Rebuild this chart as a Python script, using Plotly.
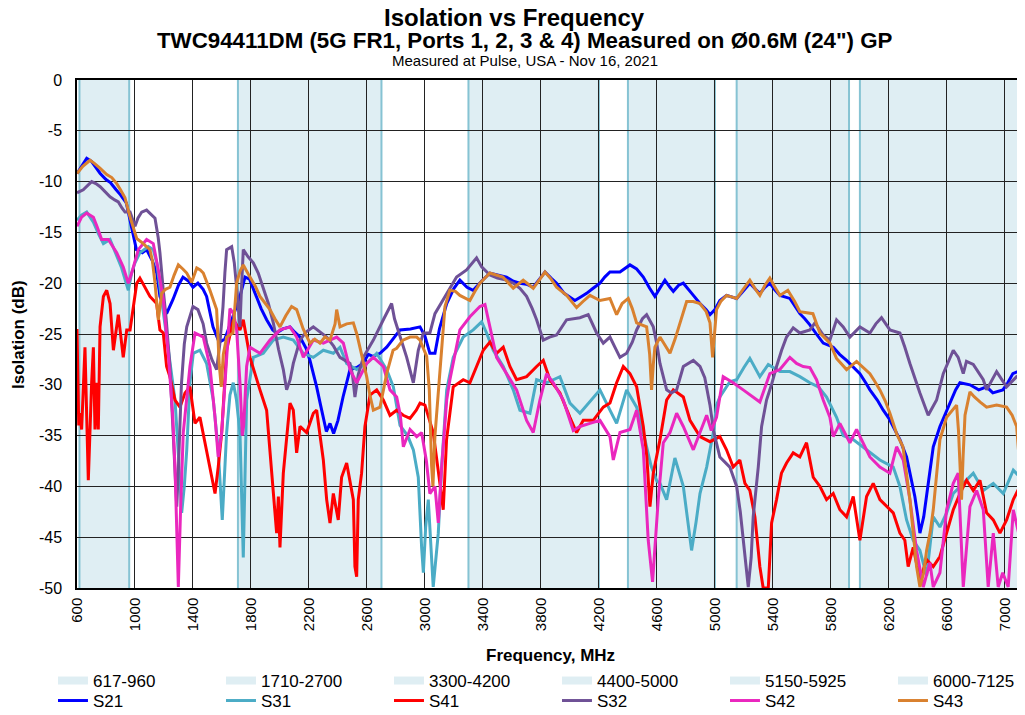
import plotly.graph_objects as go

# frequency bands (MHz)
band_labels = ["617-960", "1710-2700", "3300-4200", "4400-5000", "5150-5925", "6000-7125"]
band_lo = [617, 1710, 3300, 4400, 5150, 6000]
band_hi = [960, 2700, 4200, 5000, 5925, 7125]

x_ticks = [600, 1000, 1400, 1800, 2200, 2600, 3000, 3400, 3800, 4200, 4600, 5000, 5400, 5800, 6200, 6600, 7000]
y_ticks = [0, -5, -10, -15, -20, -25, -30, -35, -40, -45, -50]

# S21
s21_f = [600, 640, 667, 700, 730, 760, 800, 830, 870, 900, 940, 977, 1010, 1050, 1080, 1120, 1150, 1172, 1218, 1262,
         1300, 1331, 1370, 1400, 1434, 1470, 1494, 1538, 1580, 1620, 1660, 1700, 1724, 1759, 1790, 1839, 1870, 1908,
         1950, 1977, 2020, 2069, 2100, 2138, 2180, 2207, 2230, 2253, 2280, 2299, 2320, 2345, 2370, 2400, 2435, 2483,
         2530, 2572, 2610, 2641, 2690, 2736, 2780, 2828, 2900, 2966, 3000, 3034, 3069, 3100, 3150, 3200, 3241, 3290,
         3333, 3390, 3448, 3500, 3563, 3610, 3655, 3700, 3747, 3790, 3828, 3870, 3908, 3960, 4034, 4080, 4115, 4160,
         4207, 4240, 4276, 4345, 4380, 4414, 4460, 4506, 4550, 4586, 4620, 4655, 4690, 4713, 4750, 4782, 4840, 4897,
         4940, 4966, 5000, 5034, 5080, 5150, 5200, 5241, 5280, 5310, 5345, 5379, 5410, 5448, 5517, 5550, 5586, 5620,
         5655, 5700, 5747, 5816, 5860, 5908, 5950, 6000, 6040, 6069, 6120, 6161, 6200, 6228, 6276, 6322, 6350, 6379,
         6400, 6414, 6440, 6460, 6485, 6506, 6552, 6590, 6621, 6660, 6690, 6759, 6820, 6874, 6917, 6986, 7020, 7055,
         7090, 7125]
s21_db = [-9.2, -8.3, -7.7, -8.0, -8.6, -9.2, -9.8, -10.1, -10.8, -11.3, -12.1, -14.4, -16.7, -17.0, -16.7, -17.8,
          -19.0, -21.3, -23.0, -21.6, -20.2, -19.4, -19.8, -20.4, -20.0, -20.6, -21.3, -24.3, -25.8, -25.5, -24.0,
          -22.3, -21.3, -19.4, -19.6, -21.3, -22.5, -23.6, -24.6, -24.9, -24.5, -24.3, -24.8, -25.3, -26.4, -27.6,
          -28.8, -30.2, -32.0, -33.2, -34.6, -33.8, -34.8, -33.5, -31.2, -28.5, -28.3, -27.9, -27.0, -27.2, -26.9,
          -26.3, -25.5, -24.6, -24.5, -24.3, -25.2, -26.9, -26.9, -24.5, -22.0, -20.5, -19.7, -20.4, -20.7, -19.8,
          -19.0, -19.2, -19.4, -19.8, -20.0, -20.1, -20.4, -19.6, -18.9, -19.5, -20.0, -21.0, -21.7, -21.3, -21.0,
          -20.5, -20.0, -19.4, -18.9, -18.9, -18.5, -18.2, -18.6, -19.4, -20.5, -21.3, -20.5, -19.7, -20.4, -20.8,
          -20.2, -20.0, -21.0, -22.0, -22.6, -23.1, -22.6, -21.7, -21.2, -21.5, -20.7, -20.0, -20.6, -21.0, -20.4,
          -20.0, -20.6, -21.2, -21.5, -22.2, -23.0, -23.5, -24.1, -25.0, -25.9, -26.3, -27.0, -27.6, -28.2, -28.9,
          -29.8, -30.5, -31.5, -32.5, -33.3, -34.1, -35.4, -37.1, -39.0, -41.0, -43.0, -44.6, -43.0, -41.0, -38.5,
          -36.1, -34.1, -32.8, -31.8, -30.5, -29.8, -30.0, -30.5, -30.2, -30.8, -30.5, -29.8, -28.9, -28.7, -28.3]

# S31
s31_f = [600, 630, 667, 713, 750, 782, 828, 874, 908, 954, 977, 1000, 1034, 1092, 1126, 1150, 1172, 1200, 1240, 1276,
         1300, 1322, 1340, 1357, 1379, 1402, 1448, 1494, 1540, 1574, 1602, 1632, 1655, 1678, 1700, 1724, 1747, 1760,
         1770, 1816, 1885, 1954, 2023, 2092, 2161, 2230, 2299, 2368, 2414, 2460, 2529, 2598, 2667, 2736, 2782, 2828,
         2880, 2920, 2954, 2977, 2989, 3005, 3023, 3057, 3075, 3092, 3115, 3150, 3195, 3264, 3333, 3391, 3425, 3471,
         3540, 3609, 3655, 3724, 3770, 3839, 3931, 4000, 4069, 4161, 4207, 4276, 4322, 4391, 4460, 4506, 4560, 4600,
         4621, 4667, 4724, 4782, 4810, 4839, 4870, 4897, 4943, 4989, 5011, 5034, 5103, 5150, 5200, 5241, 5310, 5368,
         5448, 5517, 5586, 5655, 5713, 5770, 5839, 5885, 5954, 6046, 6138, 6230, 6276, 6322, 6368, 6414, 6460, 6506,
         6552, 6598, 6644, 6713, 6782, 6851, 6920, 6989, 7058, 7125]
s31_db = [-13.8, -13.3, -13.0, -14.0, -15.2, -16.1, -15.7, -17.4, -18.5, -20.7, -19.0, -18.0, -17.0, -16.4, -16.7,
          -18.0, -20.4, -23.5, -27.5, -31.5, -37.0, -42.6, -40.0, -36.4, -29.8, -26.9, -26.6, -27.9, -31.5, -36.4,
          -43.3, -34.7, -31.0, -29.8, -31.5, -34.7, -47.0, -38.0, -31.5, -27.3, -26.9, -25.6, -25.3, -25.6, -26.9,
          -27.3, -26.6, -26.9, -26.3, -27.9, -28.5, -27.9, -26.9, -28.5, -30.2, -34.0, -35.0, -36.4, -39.1, -46.0,
          -48.5, -44.0, -41.3, -49.9, -47.0, -44.6, -38.1, -30.5, -27.3, -25.3, -24.6, -23.8, -24.9, -26.6, -28.2,
          -30.5, -32.5, -32.8, -29.5, -29.8, -29.2, -31.8, -32.8, -31.2, -30.5, -32.5, -33.8, -30.5, -32.2, -34.7,
          -38.0, -39.5, -39.7, -41.3, -37.2, -40.0, -43.0, -46.3, -43.5, -40.7, -38.1, -34.7, -32.0, -31.2, -29.7,
          -29.5, -28.3, -27.4, -29.2, -28.0, -28.7, -28.7, -29.2, -29.8, -30.2, -31.2, -33.2, -35.0, -35.4, -36.4,
          -37.4, -38.1, -40.0, -43.3, -45.3, -46.3, -48.8, -43.0, -44.0, -42.6, -40.7, -39.7, -38.7, -40.4, -39.7,
          -40.7, -38.4, -39.4]

# S41
s41_f = [600, 612, 621, 632, 655, 678, 701, 713, 724, 736, 747, 759, 782, 805, 828, 851, 885, 919, 943, 966, 989, 1012,
         1034, 1069, 1103, 1149, 1172, 1195, 1218, 1241, 1276, 1310, 1345, 1379, 1414, 1448, 1483, 1517, 1552, 1574,
         1598, 1632, 1678, 1724, 1747, 1793, 1839, 1862, 1908, 1954, 1977, 1989, 2000, 2023, 2046, 2069, 2092, 2115,
         2138, 2184, 2230, 2253, 2299, 2322, 2345, 2368, 2402, 2425, 2460, 2506, 2517, 2529, 2540, 2563, 2586, 2621,
         2667, 2713, 2759, 2805, 2850, 2897, 2940, 2966, 3000, 3034, 3057, 3103, 3126, 3149, 3172, 3195, 3264, 3310,
         3356, 3402, 3448, 3494, 3540, 3586, 3632, 3701, 3770, 3816, 3862, 3931, 4000, 4046, 4092, 4161, 4230, 4276,
         4322, 4368, 4414, 4460, 4506, 4530, 4552, 4575, 4621, 4667, 4713, 4782, 4828, 4897, 4966, 5034, 5080, 5126,
         5172, 5207, 5241, 5276, 5310, 5333, 5368, 5391, 5425, 5459, 5494, 5540, 5586, 5632, 5678, 5724, 5770, 5816,
         5862, 5908, 5954, 6000, 6046, 6092, 6138, 6184, 6230, 6276, 6310, 6333, 6368, 6414, 6460, 6506, 6552, 6598,
         6644, 6690, 6736, 6782, 6828, 6874, 6920, 6966, 7012, 7058, 7103, 7125]
s41_db = [-24.5, -34.0, -32.8, -34.4, -26.3, -39.4, -29.8, -26.3, -34.4, -29.8, -34.4, -24.3, -21.3, -20.7, -22.0,
          -26.6, -23.1, -27.3, -24.6, -24.6, -22.3, -20.0, -19.5, -20.4, -21.3, -22.0, -24.6, -24.9, -28.2, -29.2,
          -31.5, -32.2, -30.8, -30.2, -33.8, -33.2, -35.7, -38.1, -40.7, -38.1, -34.7, -26.6, -23.6, -24.6, -23.6,
          -27.3, -29.5, -30.5, -32.5, -40.7, -44.6, -41.0, -46.0, -38.7, -35.1, -31.8, -32.5, -36.7, -34.1, -34.7,
          -32.8, -32.5, -37.4, -41.3, -43.6, -40.7, -43.3, -39.1, -37.7, -41.3, -47.9, -48.9, -41.3, -38.7, -34.1,
          -31.0, -30.5, -31.5, -33.0, -32.5, -33.0, -33.3, -32.5, -31.8, -32.0, -33.5, -34.7, -39.7, -42.3, -35.4,
          -32.8, -30.2, -29.5, -29.8, -28.2, -26.6, -25.8, -26.9, -26.3, -28.2, -29.5, -29.2, -28.2, -27.6, -29.5,
          -30.8, -33.2, -34.7, -33.5, -33.5, -32.2, -31.8, -29.8, -28.2, -28.9, -30.2, -34.1, -37.0, -42.0, -38.7,
          -35.4, -31.5, -30.5, -31.2, -33.5, -35.1, -35.6, -35.1, -36.4, -38.1, -37.4, -39.7, -40.4, -43.0, -47.9,
          -50.0, -50.0, -43.6, -41.3, -38.7, -37.7, -36.7, -37.1, -35.7, -39.1, -40.0, -41.3, -40.7, -42.3, -43.0,
          -41.0, -45.3, -41.0, -39.7, -41.3, -42.0, -42.6, -44.6, -45.3, -47.9, -46.0, -49.2, -47.2, -47.9, -46.9,
          -44.6, -42.3, -40.7, -39.4, -40.4, -39.4, -42.6, -43.3, -44.6, -43.3, -41.3, -40.0, -40.0]

# S32
s32_f = [600, 643, 701, 730, 760, 800, 828, 860, 885, 910, 931, 966, 985, 1000, 1020, 1046, 1080, 1110, 1138, 1160,
         1172, 1195, 1215, 1240, 1262, 1280, 1288, 1300, 1320, 1340, 1357, 1400, 1434, 1470, 1494, 1530, 1563, 1585,
         1607, 1620, 1632, 1667, 1685, 1701, 1715, 1724, 1733, 1747, 1780, 1816, 1850, 1885, 1920, 1954, 1990, 2023,
         2046, 2070, 2092, 2138, 2180, 2230, 2280, 2322, 2370, 2414, 2483, 2500, 2517, 2540, 2575, 2644, 2713, 2770,
         2790, 2828, 2874, 2920, 2954, 2989, 3034, 3069, 3126, 3170, 3218, 3287, 3330, 3356, 3391, 3448, 3500, 3563,
         3610, 3655, 3701, 3740, 3770, 3816, 3860, 3908, 3977, 4030, 4069, 4126, 4184, 4230, 4276, 4310, 4345, 4391,
         4430, 4460, 4500, 4529, 4575, 4600, 4621, 4667, 4700, 4736, 4782, 4851, 4897, 4930, 4966, 4990, 5034, 5103,
         5150, 5175, 5195, 5230, 5250, 5264, 5299, 5322, 5356, 5390, 5425, 5460, 5494, 5540, 5586, 5655, 5690, 5747,
         5793, 5839, 5885, 5931, 6000, 6069, 6110, 6149, 6207, 6276, 6310, 6345, 6414, 6471, 6529, 6575, 6644, 6678,
         6713, 6735, 6782, 6851, 6874, 6943, 7012, 7081, 7125]
s32_db = [-11.1, -10.8, -10.0, -10.2, -10.5, -11.1, -11.5, -11.8, -12.0, -12.6, -13.0, -13.0, -13.8, -14.4, -13.6,
          -13.0, -12.8, -13.2, -13.6, -15.5, -17.0, -20.7, -23.5, -28.0, -34.0, -39.5, -42.0, -38.0, -30.0, -26.0,
          -24.3, -22.3, -22.6, -24.0, -25.9, -27.5, -28.5, -26.0, -22.3, -19.0, -16.7, -16.4, -18.0, -20.4, -23.0,
          -24.3, -21.0, -16.7, -17.4, -18.0, -19.0, -20.4, -22.0, -23.9, -26.5, -28.5, -30.5, -29.5, -27.9, -25.6,
          -24.8, -24.3, -24.8, -25.3, -26.2, -27.3, -27.9, -29.0, -31.2, -29.0, -27.3, -25.6, -23.6, -22.0, -23.5,
          -25.3, -27.3, -29.8, -26.6, -24.9, -24.9, -23.0, -21.6, -20.5, -19.4, -18.7, -18.0, -17.5, -18.4, -19.2,
          -19.5, -19.7, -20.0, -20.5, -21.3, -22.5, -23.6, -25.6, -25.3, -25.1, -23.6, -23.5, -23.4, -23.1, -24.9,
          -25.9, -25.3, -26.3, -27.3, -26.9, -25.8, -24.6, -23.5, -23.1, -24.3, -26.0, -27.9, -30.5, -30.8, -30.5,
          -28.2, -27.6, -28.2, -29.3, -32.0, -34.5, -37.1, -38.1, -40.0, -42.5, -45.3, -49.9, -47.0, -43.0, -38.1,
          -34.1, -31.5, -30.0, -28.2, -26.6, -25.3, -24.4, -24.9, -24.6, -23.9, -25.1, -25.6, -23.6, -24.3, -25.3,
          -24.3, -24.9, -24.0, -23.4, -24.6, -24.9, -26.3, -27.9, -30.8, -33.0, -31.5, -28.9, -26.6, -27.3, -28.9,
          -27.7, -28.0, -29.5, -30.5, -28.7, -30.2, -29.2, -29.5]

# S42
s42_f = [600, 632, 667, 713, 740, 770, 816, 874, 919, 954, 977, 1023, 1080, 1126, 1161, 1195, 1230, 1260, 1276, 1290,
         1299, 1315, 1333, 1379, 1414, 1471, 1517, 1552, 1574, 1598, 1632, 1655, 1680, 1701, 1725, 1740, 1750, 1770,
         1793, 1862, 1931, 2000, 2069, 2115, 2161, 2230, 2299, 2391, 2437, 2483, 2529, 2598, 2644, 2713, 2759, 2805,
         2830, 2851, 2897, 2943, 2977, 3010, 3034, 3069, 3092, 3115, 3150, 3172, 3241, 3310, 3379, 3414, 3448, 3494,
         3563, 3632, 3701, 3747, 3793, 3839, 3885, 3954, 4023, 4069, 4138, 4207, 4276, 4299, 4345, 4414, 4460, 4506,
         4540, 4570, 4609, 4644, 4690, 4736, 4782, 4851, 4897, 4943, 4975, 5011, 5057, 5126, 5195, 5264, 5310, 5379,
         5448, 5517, 5563, 5609, 5655, 5701, 5747, 5793, 5816, 5862, 5931, 5977, 6023, 6069, 6138, 6207, 6253, 6299,
         6345, 6391, 6437, 6483, 6506, 6552, 6598, 6644, 6678, 6713, 6759, 6805, 6851, 6885, 6920, 6954, 6985, 7023,
         7058, 7092, 7125]
s42_db = [-14.4, -13.5, -13.1, -13.5, -14.5, -15.7, -15.7, -17.0, -18.4, -20.0, -19.0, -16.7, -15.7, -16.1, -18.7,
          -21.6, -27.0, -33.0, -38.1, -45.0, -49.9, -42.0, -34.7, -28.2, -24.9, -25.3, -28.2, -33.2, -37.1, -34.7,
          -26.9, -22.5, -23.0, -24.6, -30.0, -35.0, -34.0, -28.2, -26.3, -26.9, -25.6, -24.6, -24.3, -25.3, -27.3,
          -25.6, -25.9, -25.3, -25.9, -28.5, -29.8, -27.9, -27.3, -28.2, -30.5, -31.2, -33.0, -36.1, -34.4, -35.1,
          -34.7, -37.5, -40.7, -40.0, -43.6, -38.1, -31.5, -29.5, -24.6, -23.3, -22.3, -22.1, -24.3, -27.3, -28.9,
          -30.5, -33.5, -34.7, -31.5, -28.9, -29.8, -31.5, -34.5, -34.1, -33.8, -33.5, -35.1, -37.4, -34.7, -34.4,
          -32.5, -36.4, -45.3, -49.4, -41.3, -35.7, -34.7, -32.8, -34.1, -36.4, -34.7, -33.0, -34.5, -33.2, -29.2,
          -29.8, -30.5, -31.2, -31.7, -28.9, -28.5, -27.3, -27.9, -28.2, -28.3, -29.5, -31.5, -33.2, -35.1, -33.8,
          -35.7, -34.4, -35.7, -37.1, -38.1, -38.7, -36.1, -37.4, -41.3, -46.3, -49.9, -47.5, -49.9, -48.5, -42.3,
          -39.7, -38.7, -49.9, -42.0, -40.4, -42.3, -49.9, -44.6, -49.9, -48.5, -49.9, -42.3, -44.6, -46.5]

# S43
s43_f = [600, 640, 690, 720, 760, 805, 840, 874, 900, 931, 966, 990, 1012, 1057, 1103, 1120, 1138, 1161, 1184, 1210,
         1241, 1270, 1299, 1330, 1357, 1391, 1426, 1450, 1471, 1517, 1563, 1581, 1595, 1609, 1632, 1676, 1701, 1725,
         1747, 1793, 1830, 1862, 1900, 1931, 1965, 2000, 2040, 2080, 2115, 2160, 2207, 2240, 2276, 2310, 2345, 2380,
         2391, 2414, 2460, 2506, 2530, 2552, 2598, 2620, 2644, 2690, 2736, 2780, 2805, 2848, 2897, 2943, 2966, 3012,
         3030, 3046, 3055, 3069, 3085, 3103, 3138, 3172, 3210, 3241, 3310, 3345, 3379, 3448, 3490, 3538, 3609, 3678,
         3747, 3790, 3828, 3870, 3908, 3977, 4046, 4090, 4138, 4207, 4276, 4322, 4360, 4402, 4430, 4460, 4529, 4550,
         4563, 4575, 4586, 4621, 4650, 4690, 4725, 4759, 4805, 4850, 4897, 4940, 4966, 4984, 4995, 5011, 5040, 5080,
         5150, 5200, 5241, 5280, 5310, 5345, 5379, 5410, 5448, 5503, 5550, 5586, 5630, 5676, 5724, 5793, 5839, 5875,
         5908, 5977, 6020, 6069, 6100, 6138, 6175, 6207, 6253, 6297, 6345, 6370, 6391, 6414, 6440, 6460, 6485, 6506,
         6530, 6552, 6598, 6640, 6667, 6680, 6690, 6701, 6712, 6725, 6759, 6790, 6830, 6874, 6943, 7012, 7050, 7081,
         7103, 7125]
s43_db = [-9.2, -8.5, -7.9, -8.2, -8.7, -9.3, -9.6, -10.2, -10.8, -11.6, -13.5, -14.6, -15.6, -16.1, -16.7, -17.8,
          -20.0, -23.6, -21.0, -20.6, -20.4, -19.2, -18.2, -18.6, -19.0, -19.9, -18.5, -18.7, -19.0, -20.7, -22.6,
          -28.0, -30.2, -27.0, -25.3, -24.9, -20.0, -18.8, -18.2, -19.4, -20.3, -21.3, -22.0, -22.6, -23.5, -24.3,
          -23.2, -22.3, -22.6, -24.5, -25.9, -25.5, -25.9, -25.3, -25.6, -24.0, -22.6, -24.3, -24.0, -23.9, -25.0,
          -26.3, -29.2, -31.0, -32.5, -32.2, -28.9, -26.6, -26.4, -25.6, -25.3, -25.3, -25.6, -27.2, -30.5, -38.0,
          -40.0, -35.0, -32.0, -28.9, -22.3, -20.7, -20.8, -21.2, -21.7, -20.8, -20.0, -19.0, -19.2, -19.4, -20.5,
          -19.7, -20.5, -19.6, -18.9, -19.6, -20.4, -21.2, -22.4, -21.8, -21.2, -21.7, -21.5, -23.1, -22.0, -21.5,
          -22.5, -23.9, -24.3, -27.0, -30.5, -28.0, -26.3, -25.3, -26.0, -26.9, -25.5, -23.9, -21.8, -21.8, -22.0,
          -22.8, -23.9, -27.3, -25.0, -22.6, -21.8, -21.2, -21.5, -20.5, -19.7, -20.6, -21.2, -20.2, -19.5, -20.3,
          -21.2, -20.7, -21.8, -22.8, -22.9, -23.0, -24.9, -25.9, -27.4, -28.0, -28.5, -27.7, -28.3, -28.9, -29.6,
          -30.5, -31.6, -32.8, -34.8, -36.1, -41.3, -45.0, -47.9, -49.9, -48.5, -46.3, -44.5, -42.3, -38.8, -35.4,
          -33.2, -32.5, -32.0, -34.5, -38.1, -41.3, -37.0, -33.0, -30.7, -31.2, -31.7, -32.2, -32.0, -32.2, -33.0,
          -34.1, -38.1, -43.0]

series = [
    ("S21", s21_f, s21_db, "#0000FF"),
    ("S31", s31_f, s31_db, "#4BACC6"),
    ("S41", s41_f, s41_db, "#FF0000"),
    ("S32", s32_f, s32_db, "#6F5196"),
    ("S42", s42_f, s42_db, "#EA27BE"),
    ("S43", s43_f, s43_db, "#D9812F"),
]

FONT = "Liberation Sans, Arial, sans-serif"
band_fill = "#DFEEF3"
band_edge = "#86C3D3"

fig = go.Figure()

# legend-only entries for the bands
for label in band_labels:
    fig.add_trace(go.Scatter(
        x=[None], y=[None], mode="lines", name=label,
        line=dict(color=band_fill, width=8), legend="legend"
    ))

for name, f, db, color in series:
    fig.add_trace(go.Scatter(
        x=f, y=db, mode="lines", name=name,
        line=dict(color=color, width=3), legend="legend2"
    ))

# shaded bands
for lo, hi in zip(band_lo, band_hi):
    fig.add_shape(type="rect", xref="x", yref="paper", x0=lo, x1=hi, y0=0, y1=1,
                  fillcolor=band_fill, line_width=0, layer="below")
    for edge in (lo, hi):
        fig.add_shape(type="line", xref="x", yref="paper", x0=edge, x1=edge, y0=0, y1=1,
                      line=dict(color=band_edge, width=2), layer="below")

# titles (page body adds an 8px offset, figure sized to fit the window)
fig.add_annotation(text="<b>Isolation vs Frequency</b>", xref="paper", yref="paper",
                   x=0.463, y=1.124, xanchor="center", yanchor="middle", showarrow=False,
                   font=dict(size=24, color="black"))
fig.add_annotation(text="<b>TWC94411DM (5G FR1, Ports 1, 2, 3 & 4) Measured on Ø0.6M (24\") GP</b>",
                   xref="paper", yref="paper", x=0.4736, y=1.078, xanchor="center", yanchor="middle",
                   showarrow=False, font=dict(size=22.3, color="black"))
fig.add_annotation(text="Measured at Pulse, USA - Nov 16, 2021", xref="paper", yref="paper",
                   x=0.4736, y=1.039, xanchor="center", yanchor="middle", showarrow=False,
                   font=dict(size=15, color="black"))
fig.add_annotation(text="<b>Frequency, MHz</b>", xref="paper", yref="paper",
                   x=0.5, y=-0.132, xanchor="center", yanchor="middle", showarrow=False,
                   font=dict(size=17, color="black"))
fig.add_annotation(text="<b>Isolation (dB)</b>", xref="paper", yref="paper",
                   x=-0.0624, y=0.5, xanchor="center", yanchor="middle", textangle=-90,
                   showarrow=False, font=dict(size=17, color="black"))

fig.update_layout(
    width=1017, height=707,
    margin=dict(l=69, r=2, t=72, b=127, autoexpand=False),
    paper_bgcolor="white", plot_bgcolor="white",
    font=dict(family=FONT, color="black"),
    showlegend=True,
    legend=dict(orientation="h", x=-0.0254, xanchor="left", y=-0.183, yanchor="middle",
                entrywidth=123, entrywidthmode="pixels", font=dict(size=17), itemwidth=30,
                bgcolor="rgba(0,0,0,0)", tracegroupgap=0),
    legend2=dict(orientation="h", x=-0.0254, xanchor="left", y=-0.2224, yanchor="middle",
                 entrywidth=123, entrywidthmode="pixels", font=dict(size=17), itemwidth=30,
                 bgcolor="rgba(0,0,0,0)", tracegroupgap=0),
)

fig.update_xaxes(
    range=[600, 7125], tickvals=x_ticks, ticktext=[str(v) for v in x_ticks],
    tickangle=-90, tickfont=dict(size=15), showgrid=True, gridcolor="#222222", gridwidth=1,
    showline=True, linecolor="black", linewidth=1.5, mirror=True, zeroline=False, ticks="",
    ticklabelstandoff=2
)
fig.update_yaxes(
    range=[-50, 0], tickvals=y_ticks, ticktext=[str(v) for v in y_ticks],
    tickfont=dict(size=16), showgrid=True, gridcolor="#222222", gridwidth=1,
    showline=True, linecolor="black", linewidth=1.5, mirror=True, zeroline=False, ticks="",
    ticklabelstandoff=10
)

fig.write_html("out.html")
